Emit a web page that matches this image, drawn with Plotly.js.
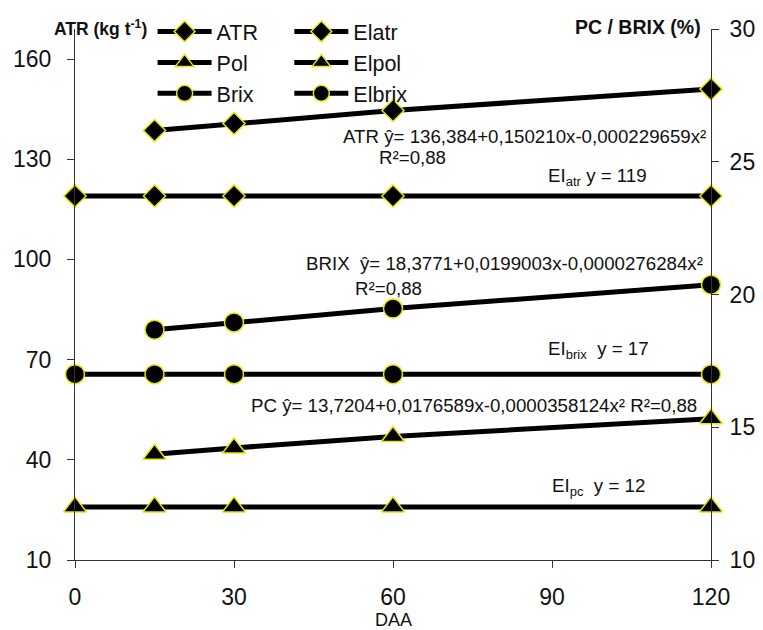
<!DOCTYPE html>
<html>
<head>
<meta charset="utf-8">
<script src="https://cdn.plot.ly/plotly-3.0.1.min.js"></script>
<style>html,body{margin:0;padding:0;background:#fff;}#chart{width:763px;height:630px;}</style>
</head>
<body>
<div id="chart"></div>
<script>
// ---- data ----
const daaAll = [0, 15, 30, 60, 120];
const daaTreat = [15, 30, 60, 120];
const atr = [138.6, 140.7, 144.6, 151.0];
const elatr = [119, 119, 119, 119, 119];
const pol = [13.98, 14.22, 14.65, 15.32];
const elpol = [12, 12, 12, 12, 12];
const brix = [18.67, 18.95, 19.47, 20.37];
const elbrix = [17, 17, 17, 17, 17];
const xTicks = [0, 30, 60, 90, 120];
const yLeftTicks = [10, 40, 70, 100, 130, 160];
const yRightTicks = [10, 15, 20, 25, 30];

const FONT = 'Liberation Sans, Arial, sans-serif';
const mk = (symbol, size) => ({symbol: symbol, size: size, color: '#000', line: {color: '#e8e800', width: 1.5}});
const ln = {color: '#000', width: 5};

function tr(name, x, y, yaxis, symbol, size, legend) {
  return {type: 'scatter', mode: 'lines+markers', name: name, x: x, y: y, yaxis: yaxis,
    marker: mk(symbol, size), line: ln, cliponaxis: false, legend: legend};
}

const data = [
  tr('ATR', daaTreat, atr, 'y', 'diamond', 17, 'legend'),
  tr('Pol', daaTreat, pol, 'y2', 'triangle-up', 20, 'legend'),
  tr('Brix', daaTreat, brix, 'y2', 'circle', 19, 'legend'),
  tr('Elatr', daaAll, elatr, 'y', 'diamond', 17, 'legend2'),
  tr('Elpol', daaAll, elpol, 'y2', 'triangle-up', 20, 'legend2'),
  tr('Elbrix', daaAll, elbrix, 'y2', 'circle', 19, 'legend2')
];

const axBase = {showline: true, linecolor: '#333', linewidth: 1, ticks: 'outside', ticklen: 7,
  tickcolor: '#333', showgrid: false, zeroline: false, tickfont: {family: FONT, size: 23, color: '#111'}};

const annFont = {family: FONT, size: 18.7, color: '#111'};
const legFont = {family: FONT, size: 21.5, color: '#111'};
function ann(text, x, y) {
  return {text: text, xref: 'x', yref: 'paper', x: x, y: y, xanchor: 'center', yanchor: 'middle', showarrow: false, font: annFont};
}
const layout = {
  width: 763, height: 630,
  margin: {l: 75, r: 52, t: 28, b: 70},
  paper_bgcolor: '#fff', plot_bgcolor: '#fff',
  font: {family: FONT, color: '#111'},
  xaxis: Object.assign({}, axBase, {range: [0, 120], tickvals: xTicks, ticklabelstandoff: 9}),
  yaxis: Object.assign({}, axBase, {range: [10, 169], tickvals: yLeftTicks, ticklabelstandoff: 11}),
  yaxis2: Object.assign({}, axBase, {range: [10, 30], tickvals: yRightTicks, overlaying: 'y', side: 'right', ticklabelstandoff: 6}),
  legend: {x: 0.122, y: 1.032, xanchor: 'left', yanchor: 'top', bgcolor: 'rgba(0,0,0,0)',
    font: legFont, tracegroupgap: 0, itemwidth: 54},
  legend2: {x: 0.337, y: 1.032, xanchor: 'left', yanchor: 'top', bgcolor: 'rgba(0,0,0,0)',
    font: legFont, tracegroupgap: 0, itemwidth: 54},
  showlegend: true,
  annotations: [
    {text: '<b>ATR (kg t<sup>-1</sup>)</b>', xref: 'paper', yref: 'paper', x: 0.0396, y: 1.002, xanchor: 'center', yanchor: 'middle', showarrow: false, font: {family: FONT, size: 17.5, color: '#111'}},
    {text: '<b>PC / BRIX (%)</b>', xref: 'paper', yref: 'paper', x: 0.885, y: 1.004, xanchor: 'center', yanchor: 'middle', showarrow: false, font: {family: FONT, size: 19.5, color: '#111'}},
    {text: 'DAA', xref: 'paper', yref: 'paper', x: 0.5, y: -0.1128, xanchor: 'center', yanchor: 'middle', showarrow: false, borderpad: 0, font: {family: FONT, size: 18, color: '#111'}},
    ann('ATR ŷ= 136,384+0,150210x-0,000229659x²', 84.85, 0.798),
    ann('R²=0,88', 63.6, 0.7575),
    ann('EI<sub>atr</sub> y = 119', 98.6, 0.722),
    ann('BRIX  ŷ= 18,3771+0,0199003x-0,0000276284x²', 81.1, 0.558),
    ann('R²=0,88', 59.2, 0.511),
    ann('EI<sub>brix</sub>  y = 17', 98.8, 0.395),
    ann('PC ŷ= 13,7204+0,0176589x-0,0000358124x² R²=0,88', 75.2, 0.291),
    ann('EI<sub>pc</sub>  y = 12', 98.7, 0.138)
  ]
};

Plotly.newPlot('chart', data, layout, {displayModeBar: false, staticPlot: true});
</script>
</body>
</html>
